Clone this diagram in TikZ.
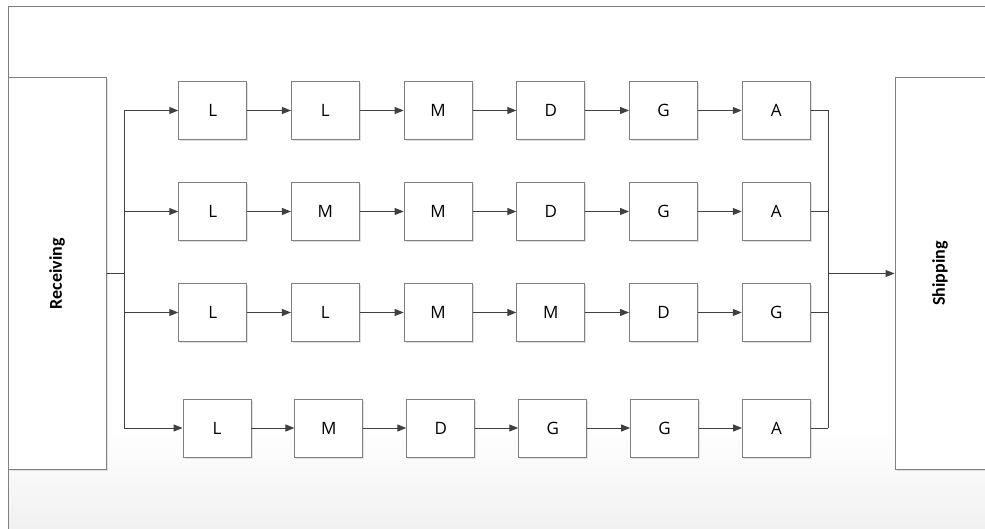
\documentclass[tikz,border=0pt]{standalone}
\usepackage{fontspec}
\newfontfamily\boxfont{Open Sans}
\newfontfamily\labfont{Carlito}
\usetikzlibrary{arrows.meta,shadows}
\definecolor{boxgray}{HTML}{808080}
\definecolor{linegray}{HTML}{404040}
\definecolor{framegray}{HTML}{7F7F7F}
\begin{document}
\begin{tikzpicture}[x=1pt,y=-1pt,
  stepbox/.style={draw=boxgray, fill=white, minimum width=68pt, minimum height=58pt,
    inner sep=0pt, line width=0.9pt, font=\boxfont\fontsize{17}{20}\selectfont,
    drop shadow={shadow xshift=1.5pt, shadow yshift=-1.5pt, fill=black!12, opacity=1}},
  endbox/.style={draw=boxgray, fill=white, minimum width=98pt, minimum height=391pt,
    inner sep=0pt, line width=1pt,
    drop shadow={shadow xshift=1.5pt, shadow yshift=-1.5pt, fill=black!12, opacity=1}},
  endlabel/.style={rotate=90, font=\labfont\bfseries\fontsize{18}{21}\selectfont},
  conn/.style={draw=linegray, line width=1pt},
  arr/.style={conn, -{Triangle[length=9pt,width=7pt]}}
]
\useasboundingbox (0,0) rectangle (985,529);
\clip (0,0) rectangle (985,529);
% background frame
\shade[top color=white, bottom color=black!6] (8,430) rectangle (990,535);
\draw[framegray, line width=1pt] (8,535) -- (8,7) -- (990,7);

% end boxes
\node[endbox] (rec) at (57,273.5) {};
\node[endlabel] (reclab) at (rec.center) {Receiving};
\node[endbox] (ship) at (944,273.5) {};
\node[endlabel] (shiplab) at (940,273.5) {Shipping};

% rows
\foreach \r/\yy/\xs/\dx/\labs in {
  1/110.5/212.7/112.7/{L,L,M,D,G,A},
  2/211.5/212.7/112.7/{L,M,M,D,G,A},
  3/312.5/212.7/112.7/{L,L,M,M,D,G},
  4/428/217/111.9/{L,M,D,G,G,A}}{
  \foreach \t [count=\c from 0] in \labs {
    \node[stepbox] (b\r\c) at ({\xs+\c*\dx},\yy) {\t};
  }
  \foreach \c [evaluate=\c as \n using int(\c+1)] in {0,...,4} {
    \draw[arr] (b\r\c) -- (b\r\n);
  }
  \coordinate (lt\r) at (124,\yy);
  \coordinate (rt\r) at (828.3,\yy);
  \draw[arr] (lt\r) -- (b\r0);
  \draw[conn] (b\r5) -- (rt\r);
}
% trunks
\coordinate (lmid) at (124,273.5);
\coordinate (rmid) at (828.3,273.5);
\draw[conn] (lt1) -- (lt4);
\draw[conn] (rt1) -- (rt4);
\draw[conn] (rec.east |- lmid) -- (lmid);
\draw[arr] (rmid) -- (ship.west |- rmid);
\end{tikzpicture}
\end{document}
